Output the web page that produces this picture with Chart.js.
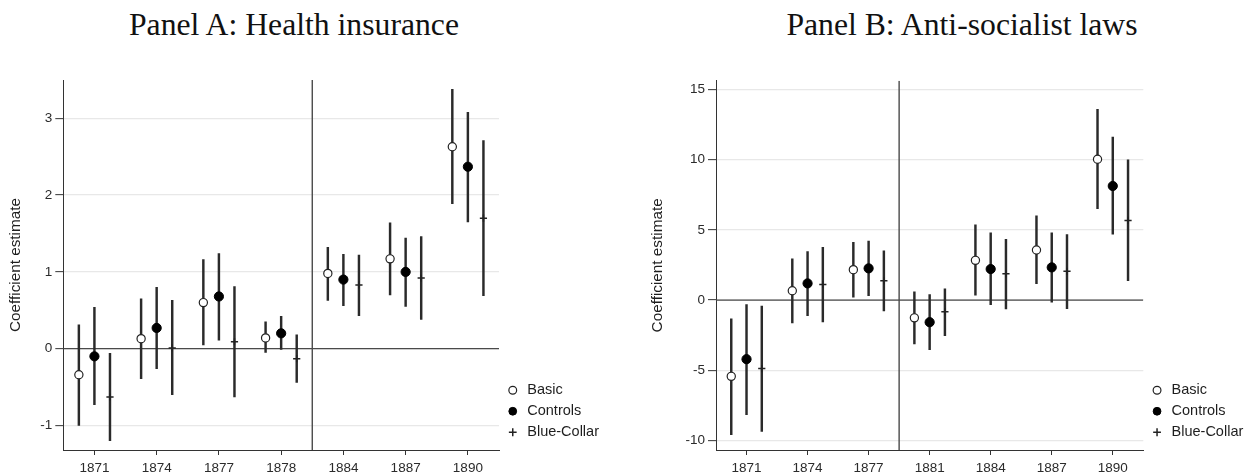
<!DOCTYPE html>
<html>
<head>
<meta charset="utf-8">
<script src="https://cdn.jsdelivr.net/npm/chart.js@4.4.1/dist/chart.umd.min.js"></script>
<style>
  html, body { margin: 0; padding: 0; background: #ffffff; }
  #wrap { position: relative; width: 1250px; height: 475px; overflow: hidden; background: #fff; }
  canvas { position: absolute; top: 0; }
  .ptitle { position: absolute; top: 9px; font-family: "Liberation Serif", "Times New Roman", serif; font-size: 31.7px; line-height: 32px; color: #111; text-align: center; white-space: nowrap; }
</style>
</head>
<body>
<div id="wrap">
  <div class="ptitle" style="left:0px;width:588px;">Panel A: Health insurance</div>
  <div class="ptitle" style="left:662px;width:600px;">Panel B: Anti-socialist laws</div>
  <canvas id="ca" width="625" height="475" style="left:0px;"></canvas>
  <canvas id="cb" width="625" height="475" style="left:625px;"></canvas>
</div>
<script>
// ---------------- Data ----------------
// Panel A: Health insurance
const yearsA = ['1871', '1874', '1877', '1878', '1884', '1887', '1890'];
const basicA      = [-0.34, 0.13, 0.60, 0.14, 0.98, 1.17, 2.63];
const basicLoA    = [-1.00, -0.39, 0.05, -0.05, 0.63, 0.70, 1.89];
const basicHiA    = [0.31, 0.65, 1.16, 0.35, 1.32, 1.64, 3.38];
const controlsA   = [-0.10, 0.27, 0.68, 0.20, 0.90, 1.00, 2.37];
const controlsLoA = [-0.73, -0.26, 0.11, -0.01, 0.56, 0.55, 1.65];
const controlsHiA = [0.54, 0.80, 1.24, 0.42, 1.23, 1.44, 3.08];
const blueA       = [-0.63, 0.01, 0.09, -0.13, 0.83, 0.92, 1.70];
const blueLoA     = [-1.20, -0.60, -0.63, -0.44, 0.43, 0.38, 0.69];
const blueHiA     = [-0.06, 0.63, 0.81, 0.18, 1.22, 1.46, 2.71];
const yTicksA = [-1, 0, 1, 2, 3];

// Panel B: Anti-socialist laws
const yearsB = ['1871', '1874', '1877', '1881', '1884', '1887', '1890'];
const basicB      = [-5.42, 0.67, 2.17, -1.26, 2.83, 3.57, 10.02];
const basicLoB    = [-9.57, -1.62, 0.21, -3.12, 0.36, 1.17, 6.50];
const basicHiB    = [-1.33, 2.93, 4.12, 0.60, 5.36, 6.00, 13.57];
const controlsB   = [-4.20, 1.19, 2.26, -1.57, 2.21, 2.33, 8.12];
const controlsLoB = [-8.14, -1.10, 0.31, -3.52, -0.33, -0.14, 4.69];
const controlsHiB = [-0.31, 3.45, 4.21, 0.40, 4.79, 4.79, 11.60];
const blueB       = [-4.87, 1.12, 1.38, -0.83, 1.88, 2.05, 5.67];
const blueLoB     = [-9.33, -1.55, -0.76, -2.52, -0.62, -0.60, 1.38];
const blueHiB     = [-0.43, 3.76, 3.50, 0.81, 4.33, 4.67, 9.98];
const yTicksB = [-10, -5, 0, 5, 10, 15];

const seriesNames = ['Basic', 'Controls', 'Blue-Collar'];

// ---------------- Drawing ----------------
const SANS = '"Liberation Sans", Arial, Helvetica, sans-serif';
Chart.defaults.font.family = SANS;
const OFFSET = 0.25;
const X_MIN = -0.5, X_MAX = 6.5;
const LEGEND_SHIFT = 4;

function pts(vals, shift) { return vals.map((v, i) => ({ x: i + shift, y: v })); }
function ci(lo, hi, shift) { return lo.map((l, i) => ({ x: i + shift, y: [l, hi[i]] })); }

// moves the (right-hand) legend block up slightly
const legendNudge = {
  id: 'legendNudge',
  afterLayout(chart) {
    if (chart.legend) { chart.legend.top -= LEGEND_SHIFT; chart.legend.bottom -= LEGEND_SHIFT; }
  }
};

function makePanel(id, p) {
  const barStyle = { type: 'bar', grouped: false, barThickness: 1.8, backgroundColor: '#2a2a2a', borderWidth: 0, order: 2 };
  const datasets = [
    { type: 'scatter', label: seriesNames[0], data: pts(p.basic, -OFFSET), pointStyle: 'circle', pointRadius: 4.1, backgroundColor: '#ffffff', borderColor: '#222222', borderWidth: 1.2, order: 0 },
    { type: 'scatter', label: seriesNames[1], data: pts(p.controls, 0), pointStyle: 'circle', pointRadius: 4.6, backgroundColor: '#000000', borderColor: '#000000', borderWidth: 1, order: 0 },
    { type: 'scatter', label: seriesNames[2], data: pts(p.blue, OFFSET), pointStyle: 'cross', pointRadius: 3.6, backgroundColor: '#222222', borderColor: '#222222', borderWidth: 1.5, order: 0 },
    Object.assign({ data: ci(p.basicLo, p.basicHi, -OFFSET) }, barStyle),
    Object.assign({ data: ci(p.controlsLo, p.controlsHi, 0) }, barStyle),
    Object.assign({ data: ci(p.blueLo, p.blueHi, OFFSET) }, barStyle),
    { type: 'line', data: [{ x: X_MIN, y: 0 }, { x: X_MAX, y: 0 }], borderColor: '#4a4a4a', borderWidth: 1.4, pointRadius: 0, order: 3 },
    { type: 'line', data: [{ x: p.brk, y: p.yMin }, { x: p.brk, y: p.yMax }], borderColor: '#4a4a4a', borderWidth: 1.4, pointRadius: 0, order: 3 }
  ];
  const chart = new Chart(document.getElementById(id), {
    type: 'scatter',
    data: { datasets },
    plugins: [legendNudge],
    options: {
      responsive: false,
      animation: false,
      events: [],
      layout: { padding: { left: p.padLeft, top: p.padTop, right: 10, bottom: 0 } },
      plugins: {
        tooltip: { enabled: false },
        title: { display: false },
        legend: {
          display: true,
          position: 'right',
          align: 'end',
          fullSize: false,
          labels: {
            filter: (item) => !!item.text,
            usePointStyle: true,
            boxWidth: 14.5,
            boxHeight: 5.5,
            padding: 6.5,
            color: '#1e1e1e',
            font: { family: SANS, size: 14.5 }
          }
        }
      },
      scales: {
        x: {
          type: 'linear',
          min: X_MIN,
          max: X_MAX,
          offset: false,
          afterBuildTicks: (ax) => { ax.ticks = p.years.map((_, i) => ({ value: i })); },
          afterFit: (s) => { s.height = 25; },
          ticks: {
            callback: (v) => p.years[v],
            autoSkip: false,
            maxRotation: 0,
            padding: 5,
            color: '#2b2b2b',
            font: { family: SANS, size: 13.5 }
          },
          grid: { drawOnChartArea: false, offset: false, tickLength: 5, tickColor: '#333333', tickWidth: 1 },
          border: { display: true, color: '#333333', width: 1 }
        },
        y: {
          type: 'linear',
          min: p.yMin,
          max: p.yMax,
          afterBuildTicks: (ax) => { ax.ticks = p.yTicks.map((v) => ({ value: v })); },
          afterFit: (s) => { s.width = p.yAxisW; },
          ticks: {
            padding: 3,
            color: '#2b2b2b',
            font: { family: SANS, size: 13.5 }
          },
          grid: { color: '#e8e8e8', lineWidth: 1.3, tickLength: 8, tickColor: '#333333', tickWidth: 1 },
          border: { display: true, color: '#333333', width: 1 },
          title: {
            display: true,
            text: 'Coefficient estimate',
            color: '#1e1e1e',
            font: { family: SANS, size: 15.3 },
            padding: { top: 6.8, bottom: 0 }
          }
        }
      }
    }
  });
  // align the plot area's right edge with the reference layout
  const diff = chart.chartArea.right - p.plotRight;
  chart.options.layout.padding = { left: p.padLeft, top: p.padTop, right: 10 + diff, bottom: 0 };
  chart.update();
  return chart;
}

makePanel('ca', {
  years: yearsA, basic: basicA, basicLo: basicLoA, basicHi: basicHiA,
  controls: controlsA, controlsLo: controlsLoA, controlsHi: controlsHiA,
  blue: blueA, blueLo: blueLoA, blueHi: blueHiA, yTicks: yTicksA,
  yMin: -1.32, yMax: 3.5, brk: 3.5,
  padLeft: 0, padTop: 80, yAxisW: 63.3, plotRight: 499
});

makePanel('cb', {
  years: yearsB, basic: basicB, basicLo: basicLoB, basicHi: basicHiB,
  controls: controlsB, controlsLo: controlsLoB, controlsHi: controlsHiB,
  blue: blueB, blueLo: blueLoB, blueHi: blueHiB, yTicks: yTicksB,
  yMin: -10.66, yMax: 15.61, brk: 2.5,
  padLeft: 17, padTop: 80.7, yAxisW: 74, plotRight: 518.3
});
</script>
</body>
</html>
